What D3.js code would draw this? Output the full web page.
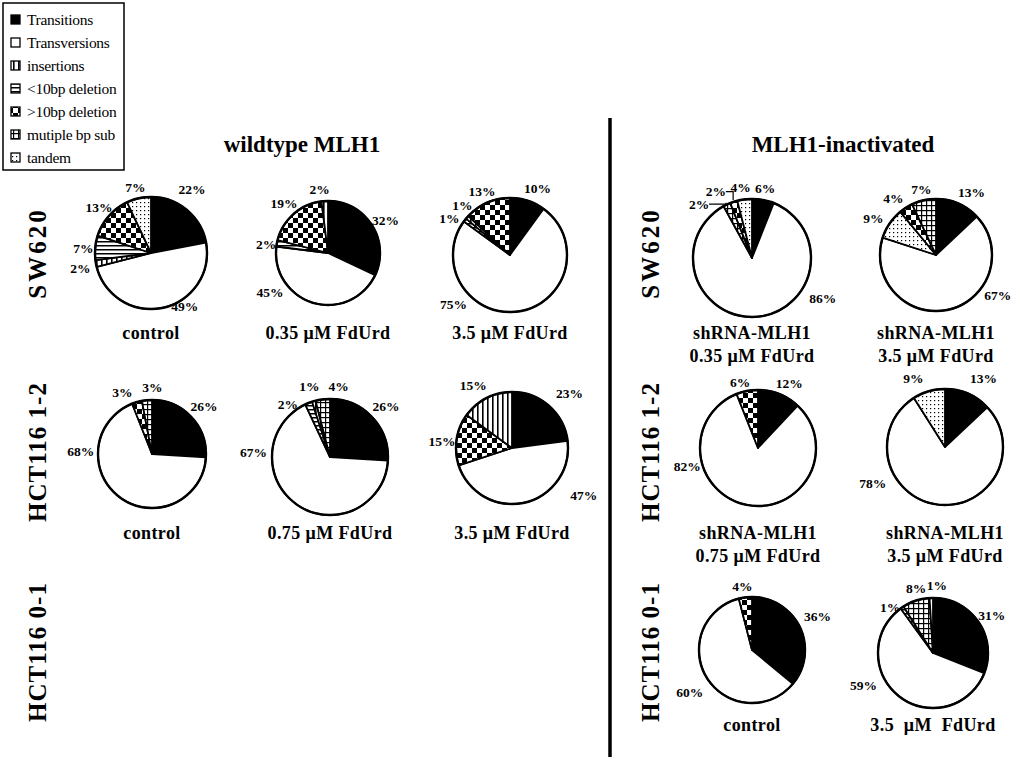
<!DOCTYPE html>
<html>
<head>
<meta charset="utf-8">
<script src="https://cdn.jsdelivr.net/npm/d3@7/dist/d3.min.js"></script>
<style>
  body { margin: 0; background: #fff; }
  svg { display: block; font-family: "Liberation Serif", "Times New Roman", serif; }
</style>
</head>
<body>
<div id="chart"></div>
<script>
// categories, in legend order
const categories = ["Transitions", "Transversions", "insertions", "<10bp deletion", ">10bp deletion", "mutiple bp sub", "tandem"];
const panelTitles = ["wildtype MLH1", "MLH1-inactivated"];
const rowLabels = ["SW620", "HCT116 1-2", "HCT116 0-1"];

// slices of every pie, clockwise from 12 o'clock (category index + percent)
const pieCats = [
  [0, 1, 2, 3, 4, 6],   // SW620 control
  [0, 1, 3, 4, 2],      // SW620 0.35
  [0, 1, 3, 2, 4],      // SW620 3.5
  [0, 1, 5, 4, 6],      // SW620 shRNA 0.35
  [0, 1, 6, 4, 5],      // SW620 shRNA 3.5
  [0, 1, 4, 5],         // HCT116 1-2 control
  [0, 1, 3, 2, 5],      // HCT116 1-2 0.75
  [0, 1, 4, 2],         // HCT116 1-2 3.5
  [0, 1, 4],            // HCT116 1-2 shRNA 0.75
  [0, 1, 6],            // HCT116 1-2 shRNA 3.5
  [0, 1, 4],            // HCT116 0-1 control
  [0, 1, 3, 5, 2]       // HCT116 0-1 3.5
];
const pieValues = [
  [22, 49, 2, 7, 13, 7],
  [32, 45, 2, 19, 2],
  [10, 75, 1, 1, 13],
  [6, 86, 2, 2, 4],
  [13, 67, 9, 4, 7],
  [26, 68, 3, 3],
  [26, 67, 2, 1, 4],
  [23, 47, 15, 15],
  [12, 82, 6],
  [13, 78, 9],
  [36, 60, 4],
  [31, 59, 1, 8, 1]
];
const pieCaptions = [
  ["control"], ["0.35 \u03bcM FdUrd"], ["3.5 \u03bcM FdUrd"],
  ["shRNA-MLH1", "0.35 \u03bcM FdUrd"], ["shRNA-MLH1", "3.5 \u03bcM FdUrd"],
  ["control"], ["0.75 \u03bcM FdUrd"], ["3.5 \u03bcM FdUrd"],
  ["shRNA-MLH1", "0.75 \u03bcM FdUrd"], ["shRNA-MLH1", "3.5 \u03bcM FdUrd"],
  ["control"], ["3.5  \u03bcM  FdUrd"]
];

// layout (not data): pie centres, radii, row of each pie
const pieLayout = [
  {cx: 151, cy: 253, r: 56, row: 0}, {cx: 328, cy: 253, r: 52, row: 0}, {cx: 510, cy: 255, r: 57, row: 0},
  {cx: 752, cy: 258, r: 59, row: 0}, {cx: 936, cy: 255, r: 56, row: 0},
  {cx: 152, cy: 454, r: 54, row: 1}, {cx: 330, cy: 457, r: 58, row: 1}, {cx: 512, cy: 448, r: 56, row: 1},
  {cx: 758, cy: 448, r: 58, row: 1}, {cx: 945, cy: 447, r: 58, row: 1},
  {cx: 752, cy: 650, r: 53, row: 2}, {cx: 933, cy: 653, r: 55, row: 2}
];
const captionY = [339, 539, 731];
const rowY = [253, 452, 652];
// nudges of percent labels away from the plain radial spot
const labelShift = [
  [[-5, -8], [18, -17], [0, 2], [4, 2], [2, 2], [0, 5]],
  [[0, 4], [-39, -26], [5, 4], [1, 1], [-4, 4]],
  [[5, 3], [-68, -23], [-3, 8], [7, -1], [1, 3]],
  [[-1, 4], [66, -35], [-21, 14], [-13, 5], [-2, 4]],
  [[7, 3], [46, -30], [-3, 4], [-4, 4], [1, 5]],
  [[1, 0], [-30, -59], [-10, 5], [7, 3]],
  [[2, 0], [-35, -66], [-15, 16], [0, 0], [18, 3]],
  [[10, -1], [56, -23], [1, 5], [-6, 1]],
  [[4, 4], [-57, -54], [-4, 7]],
  [[9, -1], [-63, -37], [-11, 2]],
  [[3, -4], [-4, 5], [-1, 5]],
  [[0, 2], [-26, -24], [-3, 13], [5, 3], [6, 3]]
];
const leaders = {"3-2": true, "3-3": true};

const W = 1020, H = 763;
const svg = d3.select("#chart").append("svg").attr("width", W).attr("height", H);
const defs = svg.append("defs");

function pat(id, size, draw) {
  const p = defs.append("pattern").attr("id", id).attr("patternUnits", "userSpaceOnUse")
    .attr("width", size).attr("height", size);
  p.append("rect").attr("width", size).attr("height", size).attr("fill", "#fff");
  draw(p);
}
pat("p-vert", 5, p => p.append("rect").attr("x", 0).attr("y", 0).attr("width", 1.6).attr("height", 5).attr("fill", "#000"));
pat("p-horz", 4, p => p.append("rect").attr("x", 0).attr("y", 0).attr("width", 4).attr("height", 1.5).attr("fill", "#000"));
pat("p-check", 10, p => {
  p.append("rect").attr("x", 0).attr("y", 0).attr("width", 5).attr("height", 5).attr("fill", "#000");
  p.append("rect").attr("x", 5).attr("y", 5).attr("width", 5).attr("height", 5).attr("fill", "#000");
});
pat("p-grid", 5, p => {
  p.append("rect").attr("x", 0).attr("y", 0).attr("width", 5).attr("height", 1.2).attr("fill", "#000");
  p.append("rect").attr("x", 0).attr("y", 0).attr("width", 1.2).attr("height", 5).attr("fill", "#000");
});
pat("p-dots", 4, p => p.append("rect").attr("x", 1).attr("y", 1).attr("width", 1.2).attr("height", 1.2).attr("fill", "#000"));

const fill = d3.scaleOrdinal()
  .domain(d3.range(categories.length))
  .range(["#000", "#fff", "url(#p-vert)", "url(#p-horz)", "url(#p-check)", "url(#p-grid)", "url(#p-dots)"]);

// legend
const lg = svg.append("g").attr("transform", "translate(3,3)");
lg.append("rect").attr("width", 121).attr("height", 167).attr("fill", "#fff").attr("stroke", "#000").attr("stroke-width", 1.5);
categories.forEach((c, i) => {
  const y = 17 + i * 23;
  lg.append("rect").attr("x", 8).attr("y", y - 5).attr("width", 9).attr("height", 9)
    .attr("fill", fill(i)).attr("stroke", "#000").attr("stroke-width", 1.3);
  lg.append("text").attr("x", 24).attr("y", y + 4.5).attr("font-size", 15.5).attr("letter-spacing", -0.3).text(c);
});

// panel titles + divider
svg.append("text").attr("x", 302).attr("y", 152).attr("text-anchor", "middle")
  .attr("font-size", 23).attr("font-weight", "bold").text(panelTitles[0]);
svg.append("text").attr("x", 843).attr("y", 152).attr("text-anchor", "middle")
  .attr("font-size", 23).attr("font-weight", "bold").text(panelTitles[1]);
svg.append("line").attr("x1", 610).attr("x2", 610).attr("y1", 118).attr("y2", 757)
  .attr("stroke", "#000").attr("stroke-width", 3.5);

// row labels on both sides
[38, 651].forEach(x => {
  rowLabels.forEach((t, i) => {
    svg.append("text").attr("transform", `translate(${x + 8},${rowY[i]}) rotate(-90)`)
      .attr("text-anchor", "middle").attr("font-size", 25).attr("font-weight", "bold")
      .attr("letter-spacing", i === 0 ? 3 : 1).text(t);
  });
});

// pies
const pie = d3.pie().sort(null).value(d => d.v);
pieValues.forEach((vals, k) => {
  const L = pieLayout[k];
  const data = vals.map((v, j) => ({v, c: pieCats[k][j]}));
  const arcs = pie(data);
  const arc = d3.arc().innerRadius(0).outerRadius(L.r);
  const lab = d3.arc().innerRadius(L.r + 16).outerRadius(L.r + 16);
  const g = svg.append("g").attr("transform", `translate(${L.cx},${L.cy})`);

  g.selectAll("path.slice").data(arcs).join("path").attr("class", "slice")
    .attr("d", arc).attr("fill", d => fill(d.data.c))
    .attr("stroke", "#000").attr("stroke-width", 1.8).attr("stroke-linejoin", "round");
  g.append("circle").attr("r", L.r).attr("fill", "none").attr("stroke", "#000").attr("stroke-width", 2.4);

  arcs.forEach((d, j) => {
    const [x, y] = lab.centroid(d);
    const s = labelShift[k][j] || [0, 0];
    const tx = x + s[0], ty = y + s[1];
    g.append("text").attr("x", tx).attr("y", ty).attr("dy", "0.35em").attr("text-anchor", "middle")
      .attr("font-size", 13.5).attr("font-weight", "bold").text(d.data.v + "%");
    if (leaders[k + "-" + j]) {
      const a = (d.startAngle + d.endAngle) / 2;
      const ex = Math.sin(a) * (L.r + 2), ey = -Math.cos(a) * (L.r + 2);
      g.append("polyline").attr("fill", "none").attr("stroke", "#000").attr("stroke-width", 1.2)
        .attr("points", `${tx + 10},${ty} ${ex},${ty} ${ex},${ey}`);
    }
  });

  pieCaptions[k].forEach((t, i) => {
    svg.append("text").attr("x", L.cx).attr("y", captionY[L.row] + i * 23).attr("text-anchor", "middle")
      .attr("font-size", 18).attr("font-weight", "bold").attr("letter-spacing", 0.4)
      .style("white-space", "pre").text(t);
  });
});
</script>
</body>
</html>
